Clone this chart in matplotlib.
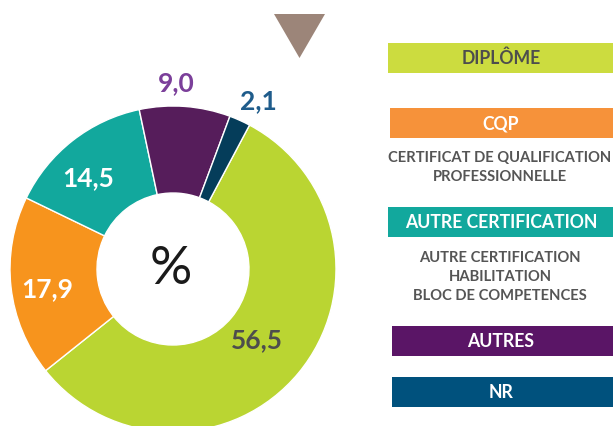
import matplotlib
matplotlib.use("Agg")
import matplotlib.pyplot as plt
from matplotlib.patches import Rectangle, Polygon

# data
categories = ["DIPLÔME", "CQP", "AUTRE CERTIFICATION", "AUTRES", "NR"]
values = [56.5, 17.9, 14.5, 9.0, 2.1]
value_labels = ["56,5", "17,9", "14,5", "9,0", "2,1"]
slice_colors = ["#BAD532", "#F7941D", "#12A89D", "#561D5B", "#053D5A"]
legend_colors = ["#CCDC3F", "#F6923A", "#12A89D", "#5A1566", "#00517D"]
legend_text_colors = ["#4D4D4D", "white", "white", "white", "white"]
descriptions = [[], ["CERTIFICAT DE QUALIFICATION", "PROFESSIONNELLE"],
                ["AUTRE CERTIFICATION", "HABILITATION", "BLOC DE COMPETENCES"],
                [], []]
value_colors = ["#4D4D4D", "white", "white", "#7B3F9A", "#1F5C8B"]

W, H = 614, 426
plt.rcParams["font.family"] = ["Lato", "DejaVu Sans"]

fig = plt.figure(figsize=(W / 100, H / 100), dpi=100)
ax = fig.add_axes([0, 0, 1, 1])

cx, cy, r_out, r_in = 173, H - 269, 163, 76
ax.pie(values, colors=slice_colors, startangle=62, counterclock=False,
       center=(cx, cy), radius=r_out, frame=True,
       wedgeprops=dict(width=r_out - r_in, edgecolor="white", linewidth=1))
ax.set_xlim(0, W)
ax.set_ylim(0, H)
ax.axis("off")

# value labels (positions in pixels from top)
label_pos = [(257, 340), (47, 289), (88, 178), (176, 83), (258, 101)]
for lab, col, (x, y) in zip(value_labels, value_colors, label_pos):
    ax.text(x, H - y, lab, color=col, fontsize=19, fontweight="bold",
            ha="center", va="center")

ax.text(cx - 2, cy, "%", fontsize=38, color="#1A1A1A", ha="center", va="center")

# triangle marker at top
ax.add_patch(Polygon([(274, H - 14), (325, H - 14), (299.5, H - 58)],
                     closed=True, color="#9C8579", lw=0))

# legend boxes
box_y = [43, 108, 207, 326, 377]
box_x = [388, 390, 388, 392, 392]
desc_y = [0, 158, 258, 0, 0]
for i, cat in enumerate(categories):
    y0 = box_y[i]
    ax.add_patch(Rectangle((box_x[i], H - y0 - 30), 613 - box_x[i], 30,
                           color=legend_colors[i], lw=0))
    ax.text(501, H - y0 - 15.5, cat, color=legend_text_colors[i],
            fontsize=12.7, fontweight="bold", ha="center", va="center")
    for k, line in enumerate(descriptions[i]):
        ax.text(500, H - desc_y[i] - 19 * k, line, color="#555555",
                fontsize=10.6, fontweight="bold", ha="center", va="center")

fig.savefig("out.png", dpi=100)
